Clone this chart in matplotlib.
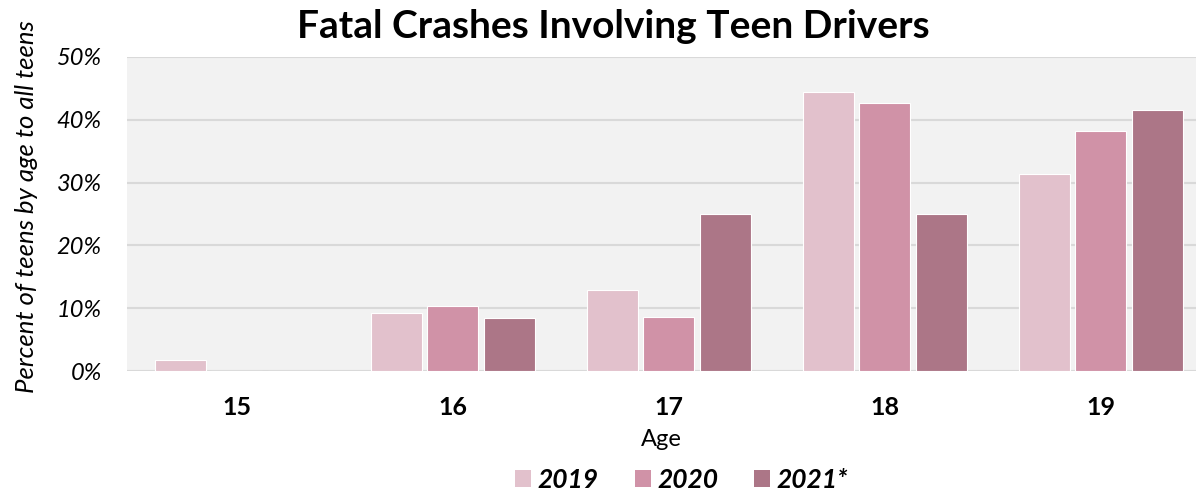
import matplotlib
matplotlib.use("Agg")
import matplotlib.pyplot as plt
from matplotlib.patches import Patch
from matplotlib.ticker import FuncFormatter
import numpy as np

ages = ["15", "16", "17", "18", "19"]
years = ["2019", "2020", "2021*"]
v2019 = [1.8, 9.2, 12.9, 44.4, 31.3]
v2020 = [0.0, 10.3, 8.6, 42.7, 38.2]
v2021 = [0.0, 8.4, 25.0, 25.0, 41.6]
colors = ["#E2C1CC", "#D092A7", "#AC7687"]

plt.rcParams['font.family'] = ['Lato', 'DejaVu Sans']

fig = plt.figure(figsize=(11.96, 4.95), dpi=100)
ax = fig.add_axes([0.106, 0.2505, 0.894, 0.6345])
ax.set_facecolor("#F2F2F2")

x = np.arange(len(ages))
step = 0.26
width = 0.236
series = [v2019, v2020, v2021]
for i, (vals, c) in enumerate(zip(series, colors)):
    vals_frac = [v / 100 for v in vals]
    ax.bar(x + (i - 1) * step, vals_frac, width=width, color=c,
           edgecolor="white", linewidth=0.8, zorder=3)

ax.set_ylim(0, 0.5)
ax.set_xlim(-0.51, 4.44)
ax.set_yticks(np.arange(0, 0.51, 0.1))
ax.yaxis.set_major_formatter(FuncFormatter(lambda v, p: f"{v*100:.0f}%"))
ax.grid(axis="y", color="#D9D9D9", linewidth=1.5, zorder=0)
for s in ax.spines.values():
    s.set_visible(False)
ax.tick_params(axis="both", length=0)
ax.tick_params(axis="y", pad=18)
ax.tick_params(axis="x", pad=18)
ax.set_xticks(x)
ax.set_xticklabels(ages, fontsize=18, fontweight="bold")
for lab in ax.get_yticklabels():
    lab.set_fontsize(17)
    lab.set_fontstyle("italic")

ax.set_ylabel("Percent of teens by age to all teens", fontsize=18.5,
              fontstyle="italic")
ax.yaxis.set_label_coords(-0.083, 0.524)
ax.set_xlabel("Age", fontsize=17, labelpad=7)

fig.text(0.513, 0.947, "Fatal Crashes Involving Teen Drivers",
         ha="center", va="center", fontsize=28, fontweight="bold")

handles = [Patch(facecolor=c, edgecolor="none") for c in colors]
leg = fig.legend(handles, years, loc="center", bbox_to_anchor=(0.57, 0.03),
                 ncol=3, frameon=False, handlelength=0.6, handleheight=0.6,
                 columnspacing=1.36, handletextpad=0.25,
                 prop={"size": 19, "weight": "bold", "style": "italic"})

fig.savefig("out.png", dpi=100)
